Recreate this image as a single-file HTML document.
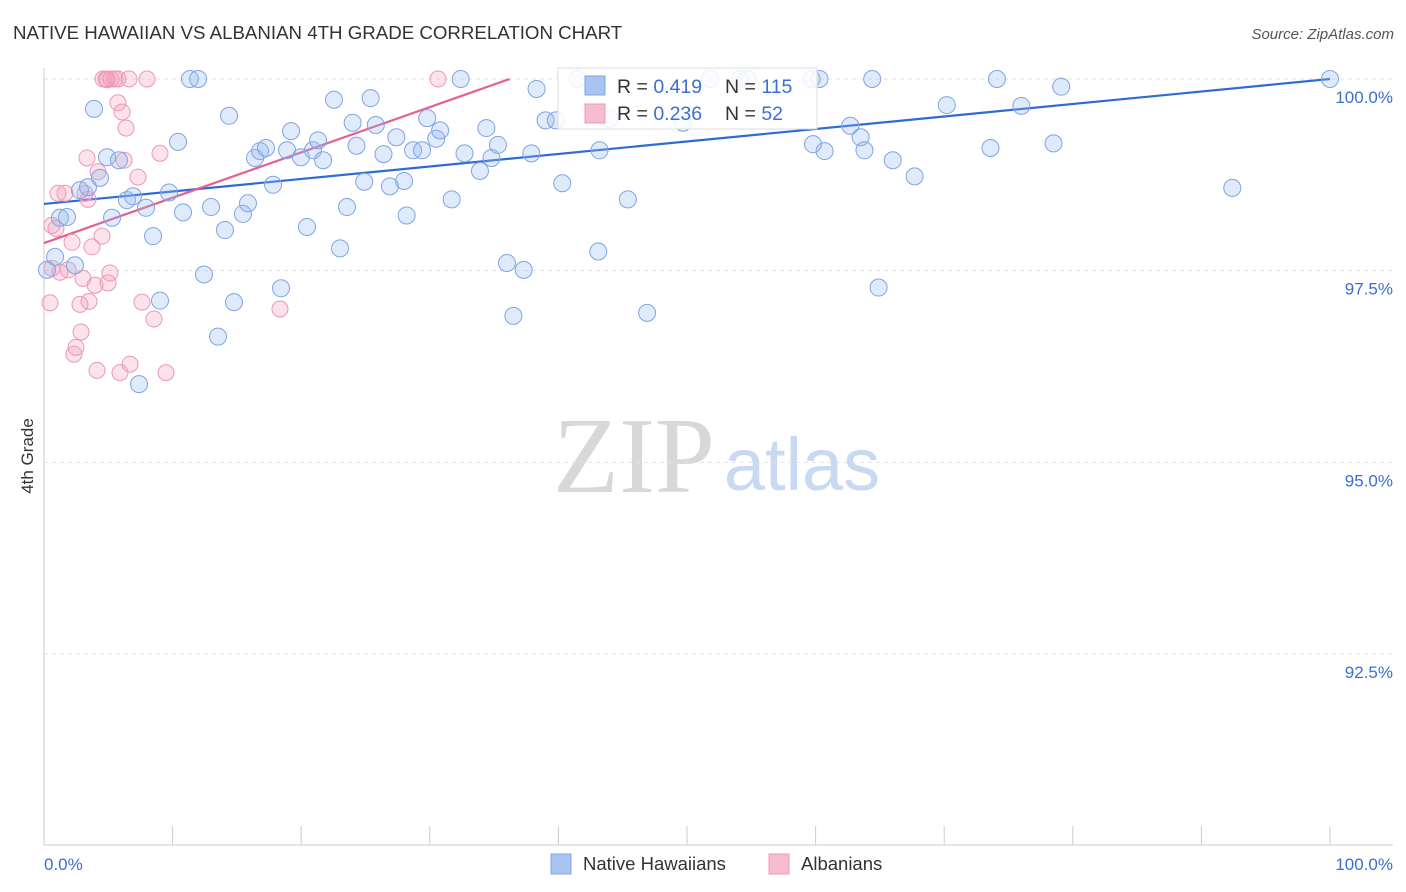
<!DOCTYPE html>
<html><head><meta charset="utf-8"><style>
body{margin:0;background:#fff;font-family:"Liberation Sans",sans-serif;}
svg{display:block}
</style></head><body>
<svg id="chart" width="1406" height="892" xmlns="http://www.w3.org/2000/svg">
<text x="13" y="39" font-size="18.7" fill="#333">NATIVE HAWAIIAN VS ALBANIAN 4TH GRADE CORRELATION CHART</text>
<text x="1394" y="39" font-size="15" fill="#555" font-style="italic" text-anchor="end">Source: ZipAtlas.com</text>
<text x="33" y="456" font-size="17" fill="#333" text-anchor="middle" transform="rotate(-90 33 456)">4th Grade</text>
<g>
<text x="634" y="492" font-size="108" font-family="Liberation Serif,serif" fill="#d8d8d8" text-anchor="middle">ZIP</text>
<text x="802" y="490" font-size="74" fill="#c9d9f2" text-anchor="middle">atlas</text>
</g>
<g id="grid"></g><g id="axes"></g><g id="trend"></g><g id="points"></g>
<g>
<rect x="558" y="68" width="259" height="61" fill="#fff" fill-opacity="0.85" stroke="#ddd"/>
<rect x="585" y="76" width="20" height="19" fill="#a9c4f0" stroke="#7ea3e3"/>
<rect x="585" y="104" width="20" height="19" fill="#f6bdd0" stroke="#ec9ab7"/>
<text x="617" y="93" font-size="19.5" fill="#333">R = <tspan fill="#3a6fd5">0.419</tspan></text>
<text x="725" y="93" font-size="19.5" fill="#333">N = <tspan fill="#3a6fd5">115</tspan></text>
<text x="617" y="120" font-size="19.5" fill="#333">R = <tspan fill="#3a6fd5">0.236</tspan></text>
<text x="725" y="120" font-size="19.5" fill="#333">N = <tspan fill="#3a6fd5"> 52</tspan></text>
</g>
<g>
<rect x="551" y="854" width="20" height="20" fill="#a9c4f0" stroke="#7ea3e3"/>
<text x="583" y="870" font-size="18.5" fill="#333">Native Hawaiians</text>
<rect x="769" y="854" width="20" height="20" fill="#f6bdd0" stroke="#ec9ab7"/>
<text x="801" y="870" font-size="18.5" fill="#333">Albanians</text>
</g>
</svg>
<script>
const blueX=[0.86,0.23,1.24,1.79,2.41,2.8,3.42,3.89,4.35,4.9,5.29,5.83,6.45,6.92,7.39,7.93,8.48,9.02,9.72,10.42,10.81,11.35,11.98,12.44,12.99,13.53,14.07,14.39,14.77,15.47,15.86,16.41,16.8,17.26,17.81,18.43,18.9,19.21,19.98,20.45,20.92,21.31,21.7,22.55,23.02,23.56,24.0,24.3,24.9,25.4,25.8,26.4,26.9,27.4,28.0,28.2,28.7,29.4,29.8,30.5,30.8,31.7,32.4,32.7,33.9,34.4,34.8,35.3,36.0,36.5,37.3,37.9,38.3,39.0,39.8,40.3,41.5,43.1,43.2,44.0,45.4,46.9,49.7,51.8,54.1,54.7,59.7,60.3,59.8,60.7,62.7,63.5,63.8,64.4,64.9,66.0,67.7,70.2,74.1,73.6,76.0,78.5,79.1,92.4,100];
const blueY=[97.68,97.51,98.19,98.2,97.57,98.55,98.59,99.61,98.71,98.98,98.19,98.94,98.42,98.47,96.02,98.32,97.95,97.11,98.52,99.18,98.26,100,100,97.45,98.33,96.64,98.03,99.52,97.09,98.24,98.38,98.97,99.06,99.1,98.62,97.27,99.07,99.32,98.98,98.07,99.07,99.2,98.94,99.73,97.79,98.33,99.43,99.13,98.66,99.75,99.4,99.02,98.6,99.24,98.67,98.22,99.07,99.07,99.49,99.22,99.33,98.43,100,99.03,98.8,99.36,98.97,99.14,97.6,96.91,97.51,99.03,99.87,99.46,99.46,98.64,100,97.75,99.07,99.48,98.43,96.95,99.43,100,100,100,100,100,99.15,99.06,99.39,99.24,99.07,100,97.28,98.94,98.73,99.66,100,99.1,99.65,99.16,99.9,98.58,100];
const pinkX=[0.47,0.62,0.93,1.09,0.62,1.24,1.63,1.87,2.18,2.33,2.49,2.8,2.88,3.03,3.19,3.34,3.42,3.5,3.73,3.97,4.12,4.2,4.51,4.59,4.9,4.98,5.13,5.21,5.52,5.75,5.91,6.07,6.22,6.38,6.61,6.69,7.31,7.62,8.01,8.55,9.02,9.49,18.35,30.64,5.75,4.82];
const pinkY=[97.08,97.53,98.05,98.51,98.09,97.48,98.51,97.51,97.87,96.41,96.5,97.06,96.7,97.4,98.51,98.97,98.43,97.1,97.81,97.31,96.2,98.79,97.95,100,99.99,97.34,97.47,100,100,99.69,96.17,99.57,98.94,99.36,100,96.28,98.72,97.09,100,96.87,99.03,96.17,97.0,100,100,100];
const blueTrend=[[0,98.37],[100,100]];
const pinkTrend=[[0,97.86],[36.2,100]];
const yTicks=[100,97.5,95,92.5];
const yTickLabels=["100.0%","97.5%","95.0%","92.5%"];
const xTicks=[0,10,20,30,40,50,60,70,80,90,100];
const NS="http://www.w3.org/2000/svg";
const X0=44,X1=1330,YT=79,YB=654;
const sx=v=>X0+(X1-X0)*v/100;
const sy=v=>YT+(100-v)*(YB-YT)/7.5;
function mk(tag,attrs,parent){const e=document.createElementNS(NS,tag);for(const k in attrs)e.setAttribute(k,attrs[k]);parent.appendChild(e);return e;}
const grid=document.getElementById('grid'),axes=document.getElementById('axes');
yTicks.forEach((t,i)=>{
 const l=mk('line',{x1:X0,x2:1393,y1:sy(t),y2:sy(t),stroke:'#e2e2e2','stroke-dasharray':'4,4'},grid);
 
 
 const tx=mk('text',{x:1393,y:sy(t)+24,'font-size':17,fill:'#3a6fd5','text-anchor':'end'},axes);
 tx.textContent=yTickLabels[i];
 
 
});
const ya=mk('line',{x1:X0,x2:X0,y1:68,y2:845,stroke:'#ccc'},axes);


const xa=mk('line',{x1:X0,x2:1393,y1:845,y2:845,stroke:'#ccc'},axes);


xTicks.forEach(t=>{const l=mk('line',{x1:sx(t),x2:sx(t),y1:826,y2:845,stroke:'#ccc'},axes);
 
 });
const xl0=mk('text',{x:44,y:870,'font-size':17,fill:'#3a6fd5'},axes);xl0.textContent='0.0%';


const xl1=mk('text',{x:1393,y:870,'font-size':17,fill:'#3a6fd5','text-anchor':'end'},axes);xl1.textContent='100.0%';


const pts=document.getElementById('points');
pinkX.forEach((x,i)=>{const c=mk('circle',{cx:sx(x),cy:sy(pinkY[i]),r:8,fill:'rgba(242,160,190,0.3)',stroke:'#ec98b7','stroke-width':1},pts);
 
 });
blueX.forEach((x,i)=>{const c=mk('circle',{cx:sx(x),cy:sy(blueY[i]),r:8.5,fill:'rgba(150,185,240,0.3)',stroke:'#80a4e4','stroke-width':1},pts);
 
 });
const tr=document.getElementById('trend');
const bt=mk('line',{x1:sx(blueTrend[0][0]),y1:sy(blueTrend[0][1]),x2:sx(blueTrend[1][0]),y2:sy(blueTrend[1][1]),stroke:'#2f6bd4','stroke-width':2.2},tr);


const pt=mk('line',{x1:sx(pinkTrend[0][0]),y1:sy(pinkTrend[0][1]),x2:sx(pinkTrend[1][0]),y2:sy(pinkTrend[1][1]),stroke:'#e4628f','stroke-width':2.2},tr);


</script>
</body></html>
